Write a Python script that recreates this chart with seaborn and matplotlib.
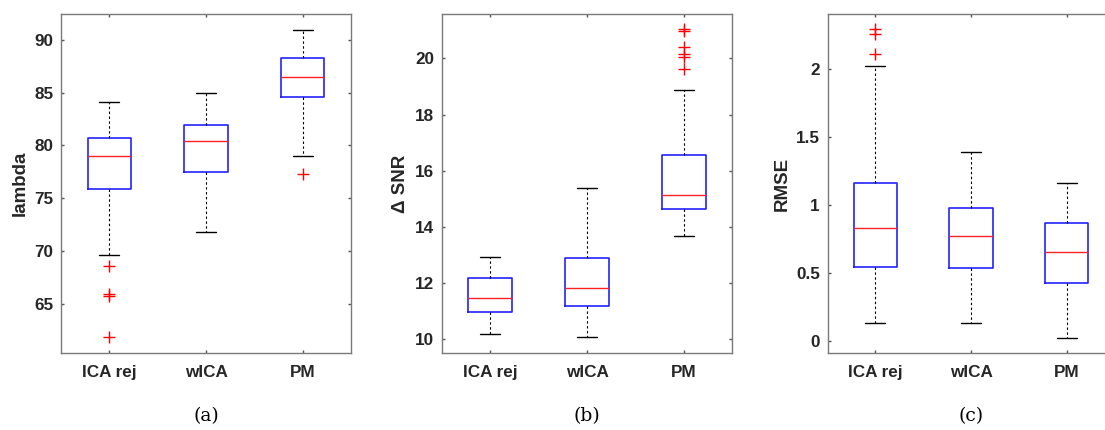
import matplotlib
matplotlib.use("Agg")
import matplotlib.pyplot as plt
from matplotlib.ticker import FormatStrFormatter
import seaborn as sns
import pandas as pd

# ---------------- data ----------------
categories = ["ICA rej", "wICA", "PM"]

# (a) lambda
lam_whislo = [69.6, 71.8, 79.0]
lam_q1 = [75.9, 77.5, 84.6]
lam_med = [79.0, 80.4, 86.5]
lam_q3 = [80.7, 81.9, 88.3]
lam_whishi = [84.1, 85.0, 91.0]
lam_out_group = ["ICA rej", "ICA rej", "ICA rej", "ICA rej", "PM"]
lam_out_value = [68.6, 65.9, 65.7, 61.8, 77.3]

# (b) delta SNR
snr_whislo = [10.19, 10.07, 13.66]
snr_q1 = [10.97, 11.18, 14.64]
snr_med = [11.47, 11.81, 15.13]
snr_q3 = [12.17, 12.90, 16.57]
snr_whishi = [12.93, 15.37, 18.86]
snr_out_group = ["PM", "PM", "PM", "PM", "PM", "PM"]
snr_out_value = [21.03, 20.97, 20.41, 20.14, 20.06, 19.61]

# (c) RMSE
rmse_whislo = [0.134, 0.134, 0.027]
rmse_q1 = [0.546, 0.537, 0.427]
rmse_med = [0.830, 0.769, 0.656]
rmse_q3 = [1.160, 0.980, 0.868]
rmse_whishi = [2.02, 1.386, 1.160]
rmse_out_group = ["ICA rej", "ICA rej", "ICA rej"]
rmse_out_value = [2.29, 2.25, 2.11]

# ---------------- style ----------------
sns.set_theme(style="ticks")
plt.rcParams["font.family"] = ["Liberation Sans", "DejaVu Sans"]
plt.rcParams["font.weight"] = "bold"

W, H = 1105, 430
fig = plt.figure(figsize=(W / 100, H / 100), dpi=100)
fig.patch.set_facecolor("white")

SPINE = "#7a7a7a"
TXT = "#262626"


def px_axes(left, right, top, bottom):
    return fig.add_axes([left / W, 1 - bottom / H, (right - left) / W, (bottom - top) / H])


panels = [
    dict(box=(lam_whislo, lam_q1, lam_med, lam_q3, lam_whishi),
         out=(lam_out_group, lam_out_value), ylabel="lambda",
         ylim=(60.32, 92.47), yticks=[65, 70, 75, 80, 85, 90],
         rect=(61, 351, 14, 353), cap="(a)"),
    dict(box=(snr_whislo, snr_q1, snr_med, snr_q3, snr_whishi),
         out=(snr_out_group, snr_out_value), ylabel="\u0394 SNR",
         ylim=(9.51, 21.58), yticks=[10, 12, 14, 16, 18, 20],
         rect=(441.7, 732.3, 14, 353), cap="(b)"),
    dict(box=(rmse_whislo, rmse_q1, rmse_med, rmse_q3, rmse_whishi),
         out=(rmse_out_group, rmse_out_value), ylabel="RMSE",
         ylim=(-0.086, 2.40), yticks=[0, 0.5, 1, 1.5, 2],
         rect=(827.5, 1114.5, 14, 353), cap="(c)"),
]

for p in panels:
    ax = px_axes(*p["rect"])
    wlo, q1, med, q3, whi = p["box"]
    stats = []
    for i, c in enumerate(categories):
        stats.append(dict(label=c, whislo=wlo[i], q1=q1[i], med=med[i],
                          q3=q3[i], whishi=whi[i], fliers=[]))
    ax.bxp(stats, positions=range(len(categories)), widths=0.45,
           capwidths=0.21, showfliers=False, patch_artist=False,
           boxprops=dict(color="#2222ff", linewidth=1.2),
           medianprops=dict(color="#ff2020", linewidth=1.0),
           whiskerprops=dict(color="black", linewidth=0.8, linestyle=(0, (2.2, 2.2))),
           capprops=dict(color="black", linewidth=1.0))

    og, ov = p["out"]
    df = pd.DataFrame({"group": og, "value": ov})
    sns.stripplot(data=df, x="group", y="value", order=categories, ax=ax,
                  jitter=False, marker="+", color="red", size=8,
                  linewidth=1.0, native_scale=False)

    ax.set_xlim(-0.5, len(categories) - 0.5)
    ax.set_ylim(*p["ylim"])
    ax.set_yticks(p["yticks"])
    ax.yaxis.set_major_formatter(FormatStrFormatter("%g"))
    ax.set_xticks(range(len(categories)))
    ax.set_xticklabels(categories)
    ax.set_xlabel("")
    ax.set_ylabel(p["ylabel"], fontsize=13.5, fontweight="bold", color=TXT, labelpad=4)

    for s in ax.spines.values():
        s.set_visible(True)
        s.set_color(SPINE)
        s.set_linewidth(1.0)
    ax.tick_params(axis="both", which="both", direction="in", length=2.5, width=1.0,
                   color="#555555", top=True, right=True, labelsize=12.3,
                   labelcolor=TXT)
    ax.tick_params(axis="y", pad=5.5)
    ax.tick_params(axis="x", pad=8.5)
    for lab in ax.get_xticklabels() + ax.get_yticklabels():
        lab.set_fontweight("bold")
    ax.set_facecolor("white")
    ax.grid(False)

    l, r = p["rect"][0], p["rect"][1]
    cx = l + (r - l) / 2
    fig.text(cx / W, 1 - 416 / H, p["cap"], ha="center", va="center",
             fontsize=13.5, family="DejaVu Serif", fontweight="normal", color="black")

fig.savefig("out.png", dpi=100, facecolor="white")
